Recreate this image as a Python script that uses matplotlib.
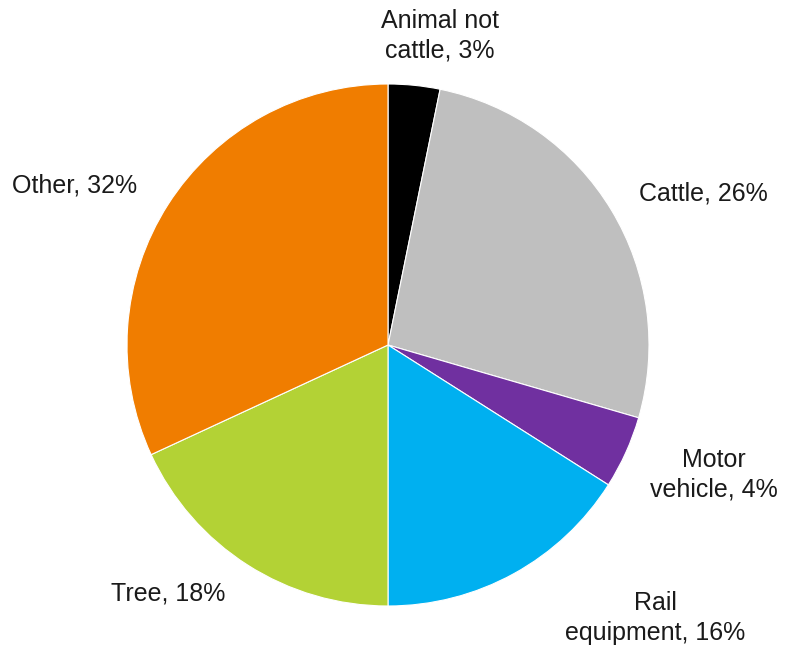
import matplotlib.pyplot as plt

plt.rcParams['font.family'] = ['Liberation Sans', 'DejaVu Sans']

# slices, clockwise from 12 o'clock
categories = ['Animal not\ncattle', 'Cattle', 'Motor\nvehicle', 'Rail\nequipment', 'Tree', 'Other']
shares = [3.2, 26.3, 4.5, 16.0, 18.1, 31.9]
pct_labels = ['3%', '26%', '4%', '16%', '18%', '32%']
colors = ['#000000', '#BFBFBF', '#7030A0', '#00B0F0', '#B3D235', '#F07D00']

# label anchor points (pixels, origin bottom-left)
label_pos = [(440, 614), (703, 457), (714, 175), (655, 32), (168, 56), (75, 464)]

fig = plt.figure(figsize=(7.85, 6.5), dpi=100)
ax = fig.add_axes([0, 0, 1, 1])
ax.pie(shares, colors=colors, startangle=90, counterclock=False,
       radius=261, center=(388, 305),
       wedgeprops=dict(edgecolor='white', linewidth=0.8))

for cat, pct, (x, y) in zip(categories, pct_labels, label_pos):
    ax.text(x, y, f'{cat}, {pct}', ha='center', va='center',
            fontsize=18, color='#1a1a1a', linespacing=1.3)

ax.set_xlim(0, 785)
ax.set_ylim(0, 650)
ax.set_aspect('equal')
ax.axis('off')

fig.savefig('out.png', dpi=100)
